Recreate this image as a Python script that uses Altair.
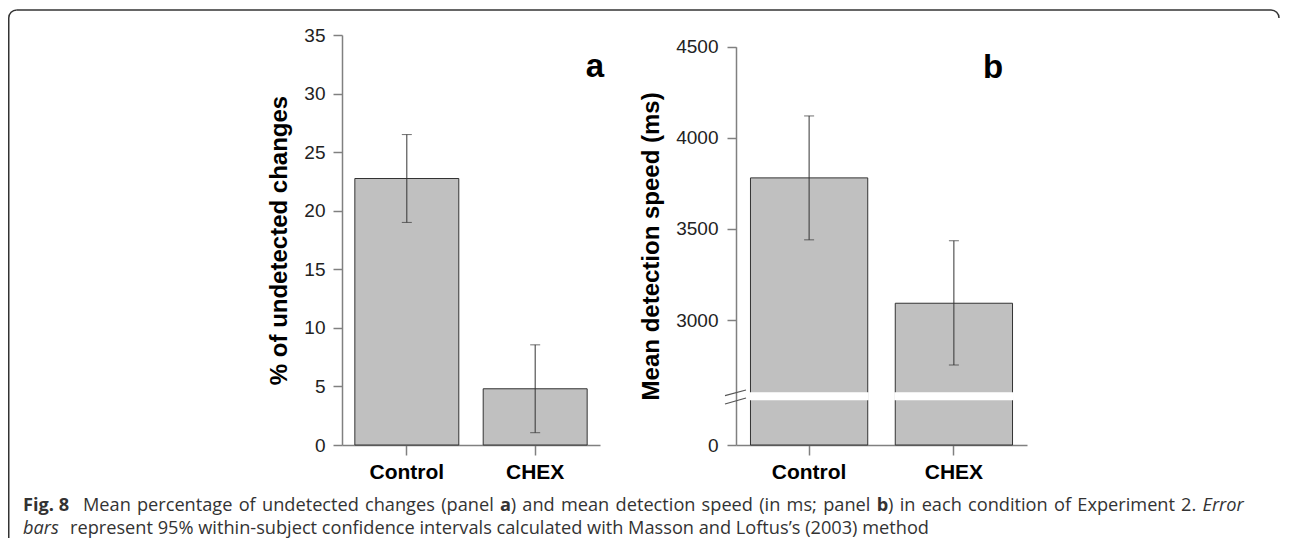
import altair as alt
import pandas as pd

# ---------------- data ----------------
conditions = ["Control", "CHEX"]

undetected_mean = [22.75, 4.8]
undetected_low = [19.0, 1.05]
undetected_high = [26.5, 8.55]

speed_mean = [3780, 3092]
speed_low = [3440, 2753]
speed_high = [4120, 3435]

pct_ticks = [0, 5, 10, 15, 20, 25, 30, 35]
speed_ticks = [0, 3000, 3500, 4000, 4500]
speed_domain = [0, 2500, 4500]          # piecewise (broken) axis
break_band = [2565, 2598]               # white gap drawn through the bars
break_slash_low = [2539, 2572]
break_slash_high = [2585, 2616]

ytitle_a = "% of undetected changes"
ytitle_b = "Mean detection speed (ms)"

# caption, line 1 as (text, weight, style, space_before) tokens
caption_lead = "Fig. 8"
caption_line1 = [
    ("Mean", "normal", "normal", False), ("percentage", "normal", "normal", True),
    ("of", "normal", "normal", True), ("undetected", "normal", "normal", True),
    ("changes", "normal", "normal", True), ("(panel", "normal", "normal", True),
    ("a", "bold", "normal", True), (")", "normal", "normal", False),
    ("and", "normal", "normal", True), ("mean", "normal", "normal", True),
    ("detection", "normal", "normal", True), ("speed", "normal", "normal", True),
    ("(in", "normal", "normal", True), ("ms;", "normal", "normal", True),
    ("panel", "normal", "normal", True), ("b", "bold", "normal", True),
    (")", "normal", "normal", False), ("in", "normal", "normal", True),
    ("each", "normal", "normal", True), ("condition", "normal", "normal", True),
    ("of", "normal", "normal", True), ("Experiment", "normal", "normal", True),
    ("2.", "normal", "normal", True), ("Error", "normal", "italic", True),
]
caption_line2 = ["bars", "represent 95% within-subject confidence intervals calculated with Masson and Loftus\u2019s (2003) method"]
caption_line2_style = ["italic", "normal"]

# ---------------- layout (pixels) ----------------
OX, OY = 342, 35                      # page position of panel a plot origin
CAP_SIZE = 18.2
cap1_start, cap1_end = 83, 1243       # justified span of line 1 after "Fig. 8"
cap_left, cap2_second = 23, 70
cap1_base, cap2_base = 511, 533.5

# approximate Open Sans advance widths (units per 2048 em)
REG = {"a": 1139, "b": 1255, "c": 975, "d": 1255, "e": 1149, "f": 694, "g": 1122, "h": 1257,
       "i": 518, "l": 518, "m": 1905, "n": 1257, "o": 1237, "p": 1255, "r": 836, "s": 977,
       "t": 723, "u": 1257, "x": 1073, "M": 1823, "E": 1114, "(": 604, ")": 604, ".": 545,
       ";": 545, "2": 1171, " ": 532}
BOLD = {"a": 1208, "b": 1290}
ITAL = {"E": 1065, "r": 780, "o": 1150}


def tw(text, weight, style):
    tot = 0
    for ch in text:
        if weight == "bold":
            tot += BOLD.get(ch, REG.get(ch, 1100))
        elif style == "italic":
            tot += ITAL.get(ch, REG.get(ch, 1100))
        else:
            tot += REG.get(ch, 1100)
    return tot * CAP_SIZE / 2048.0


nat = sum(tw(t, w, s) for t, w, s, _ in caption_line1)
nspace = sum(1 for tok in caption_line1 if tok[3])
space_w = (cap1_end - cap1_start - nat) / nspace
cap1_x = []
cur = cap1_start
for t, w, s, sp in caption_line1:
    if sp:
        cur += space_w
    cap1_x.append(cur)
    cur += tw(t, w, s)

AX_COLOR = "#808080"
BAR_FILL = "#c0c0c0"
BAR_STROKE = "#333333"
FONT = "Liberation Sans"

dfa = pd.DataFrame({"cond": conditions, "mean": undetected_mean,
                    "lo": undetected_low, "hi": undetected_high})
dfb = pd.DataFrame({"cond": conditions, "mean": speed_mean,
                    "lo": speed_low, "hi": speed_high,
                    "blo": [break_band[0]] * 2, "bhi": [break_band[1]] * 2})
one = pd.DataFrame({"k": [0]})

xaxis = alt.Axis(title=None, labelAngle=0, labelFontSize=21, labelFontWeight="bold",
                 labelColor="#000000", tickSize=10, labelPadding=6)
xscale = alt.Scale(paddingInner=0.19, paddingOuter=0.1)


def xenc():
    return alt.X("cond:N", sort=conditions, scale=xscale, axis=xaxis)


# ---------------- panel a ----------------
ya_scale = alt.Scale(domain=[0, 35], nice=False, zero=True)
ya_axis = alt.Axis(values=pct_ticks, format="d", title=ytitle_a, titleFontSize=24,
                   titleFontWeight="bold", titleColor="#000000", titleX=-51, titleBaseline="bottom",
                   labelFontSize=19, labelColor="#222222", tickSize=9, labelPadding=8)

bars_a = alt.Chart(dfa).mark_bar(fill=BAR_FILL, stroke=BAR_STROKE, strokeWidth=1).encode(
    x=xenc(), y=alt.Y("mean:Q", scale=ya_scale, axis=ya_axis, title=ytitle_a))
err_a = alt.Chart(dfa).mark_rule(color="#333333", strokeWidth=1).encode(
    x=xenc(), y=alt.Y("lo:Q", title=ytitle_a), y2="hi:Q")
caplo_a = alt.Chart(dfa).mark_tick(color="#333333", size=10, thickness=1).encode(
    x=xenc(), y=alt.Y("lo:Q", title=ytitle_a))
caphi_a = alt.Chart(dfa).mark_tick(color="#333333", size=10, thickness=1).encode(
    x=xenc(), y=alt.Y("hi:Q", title=ytitle_a))
letter_a = alt.Chart(one).mark_text(text="a", font=FONT, fontSize=33, fontWeight="bold",
                                    color="#000000", align="center", baseline="alphabetic").encode(
    x=alt.value(595 - OX), y=alt.value(77 - OY))

# frame (rounded border of the figure)
FL, FT, FR, FB = 8.75, 10.0, 1279.0, 538.0
R = 8
frame_layers = [
    alt.Chart(one).mark_rule(color="#333333", strokeWidth=1.5).encode(
        x=alt.value(FL + R - OX), x2=alt.value(FR - R - OX), y=alt.value(FT - OY)),
    alt.Chart(one).mark_rule(color="#333333", strokeWidth=1.5).encode(
        x=alt.value(FL - OX), y=alt.value(FT + R - OY), y2=alt.value(FB - OY)),
    alt.Chart(one).mark_arc(color="#333333", theta=4.712389, theta2=6.283185,
                            radius=R + 0.75, radius2=R - 0.75).encode(
        x=alt.value(FL + R - OX), y=alt.value(FT + R - OY)),
    alt.Chart(one).mark_arc(color="#333333", theta=0, theta2=1.5707963,
                            radius=R + 0.75, radius2=R - 0.75).encode(
        x=alt.value(FR - R - OX), y=alt.value(FT + R - OY)),
]


def cap_text(txt, xp, yp, weight="normal", style="normal"):
    return alt.Chart(one).mark_text(
        text=txt, font="Open Sans", fontSize=CAP_SIZE, fontWeight=weight, fontStyle=style,
        color="#333333", align="left", baseline="alphabetic").encode(
        x=alt.value(xp - OX), y=alt.value(yp - OY))


caption_layers = [cap_text(caption_lead, cap_left, cap1_base, weight="bold")]
for (t, w, s, _), xp in zip(caption_line1, cap1_x):
    caption_layers.append(cap_text(t, xp, cap1_base, weight=w, style=s))
for t, s, xp in zip(caption_line2, caption_line2_style, [cap_left, cap2_second]):
    caption_layers.append(cap_text(t, xp, cap2_base, style=s))

panel_a = alt.layer(bars_a, err_a, caplo_a, caphi_a, letter_a, *frame_layers, *caption_layers).properties(
    width=258, height=410)

# ---------------- panel b ----------------
yb_scale = alt.Scale(domain=speed_domain, range=[410, 376.1, 11.7], nice=False, zero=False)
yb_axis = alt.Axis(values=speed_ticks, format="d", title=ytitle_b, titleFontSize=24,
                   titleFontWeight="bold", titleColor="#000000", titleX=-73, titleBaseline="bottom",
                   labelFontSize=19, labelColor="#222222", tickSize=9, labelPadding=9)

bars_b = alt.Chart(dfb).mark_bar(fill=BAR_FILL, stroke=BAR_STROKE, strokeWidth=1).encode(
    x=xenc(), y=alt.Y("mean:Q", scale=yb_scale, axis=yb_axis, title=ytitle_b))
band_b = alt.Chart(dfb).mark_bar(fill="white", stroke="white", strokeWidth=2).encode(
    x=xenc(), y=alt.Y("blo:Q", title=ytitle_b), y2="bhi:Q")
err_b = alt.Chart(dfb).mark_rule(color="#333333", strokeWidth=1).encode(
    x=xenc(), y=alt.Y("lo:Q", title=ytitle_b), y2="hi:Q")
caplo_b = alt.Chart(dfb).mark_tick(color="#333333", size=10, thickness=1).encode(
    x=xenc(), y=alt.Y("lo:Q", title=ytitle_b))
caphi_b = alt.Chart(dfb).mark_tick(color="#333333", size=10, thickness=1).encode(
    x=xenc(), y=alt.Y("hi:Q", title=ytitle_b))
slash1 = alt.Chart(one).mark_rule(color="#555555", strokeWidth=1.2).encode(
    x=alt.value(-11), x2=alt.value(10), y=alt.datum(break_slash_low[0]), y2=alt.datum(break_slash_low[1]))
slash2 = alt.Chart(one).mark_rule(color="#555555", strokeWidth=1.2).encode(
    x=alt.value(-11), x2=alt.value(10), y=alt.datum(break_slash_high[0]), y2=alt.datum(break_slash_high[1]))
letter_b = alt.Chart(one).mark_text(text="b", font=FONT, fontSize=33, fontWeight="bold",
                                    color="#000000", align="center", baseline="alphabetic").encode(
    x=alt.value(993 - 736), y=alt.value(78 - OY))

panel_b = alt.layer(bars_b, band_b, err_b, caplo_b, caphi_b, slash1, slash2, letter_b).properties(
    width=291, height=410)

chart = alt.hconcat(panel_a, panel_b, spacing=736 - OX - 258, bounds="flush").properties(
    padding={"left": 0, "top": 1, "right": 0, "bottom": 0}
).configure_view(stroke=None).configure_axis(
    domainColor=AX_COLOR, domainWidth=1.5, tickColor=AX_COLOR, tickWidth=1.5,
    labelFont=FONT, titleFont=FONT, grid=False
)

chart.save("out.html", embed_options={"renderer": "svg", "actions": False})
